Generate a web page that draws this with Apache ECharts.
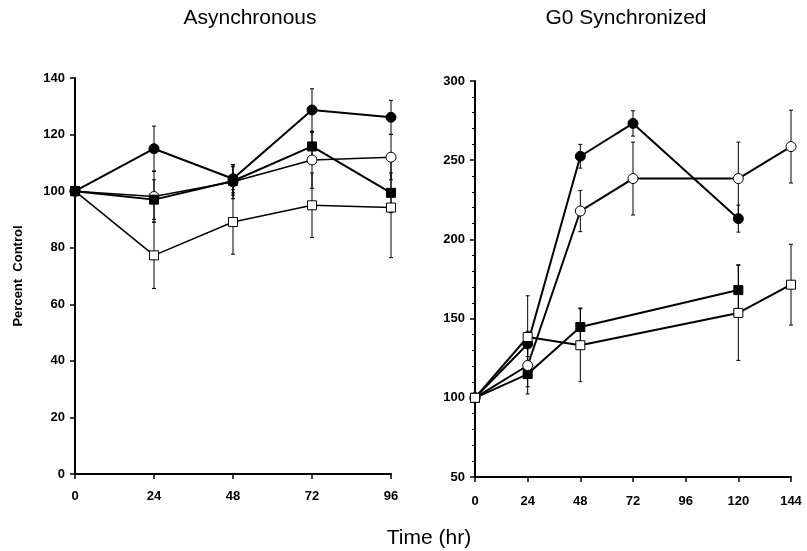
<!DOCTYPE html>
<html>
<head>
<meta charset="utf-8">
<script src="https://cdn.jsdelivr.net/npm/echarts@6/dist/echarts.min.js"></script>
<style>
  html, body { margin: 0; padding: 0; background: #fff; }
  #container { width: 807px; height: 551px; }
</style>
</head>
<body>
<div id="container"></div>
<script>
// Asynchronous panel
var asyncHours = [0, 24, 48, 72, 96];
var asyncFilledCircle = [100, 115, 104.4, 128.7, 126.1];
var asyncFilledCircleErr = [0, 8, 5, 7.5, 6];
var asyncOpenCircle = [100, 98.1, 103.3, 111, 112];
var asyncOpenCircleErr = [0, 9, 6, 10, 8];
var asyncFilledSquare = [100, 97, 103.6, 115.8, 99.4];
var asyncFilledSquareErr = [0, 7, 5, 5, 7];
var asyncOpenSquare = [100, 77.3, 89.1, 95, 94.2];
var asyncOpenSquareErr = [0, 11.7, 11.4, 11.4, 17.7];

// G0 synchronized panel
var syncFilledCircleHours = [0, 24, 48, 72, 120];
var syncFilledCircle = [100, 134, 252.5, 273.2, 213.1];
var syncFilledCircleErr = [0, 8, 7.5, 8, 8.5];
var syncOpenCircleHours = [0, 24, 48, 72, 120, 144];
var syncOpenCircle = [100, 120.4, 217.9, 238.4, 238.4, 258.6];
var syncOpenCircleErr = [0, 18, 13, 23, 23, 23];
var syncFilledSquareHours = [0, 24, 48, 120];
var syncFilledSquare = [100, 115, 144.7, 168];
var syncFilledSquareErr = [0, 8, 12, 16];
var syncOpenSquareHours = [0, 24, 48, 120, 144];
var syncOpenSquare = [100, 138.4, 133.2, 153.6, 171.4];
var syncOpenSquareErr = [0, 26, 23, 30, 25.5];

var FONT = 'Liberation Sans';

function pairs(xs, ys) {
    return xs.map(function (x, i) { return [x, ys[i]]; });
}

function triples(xs, ys, es) {
    return xs.map(function (x, i) { return [x, ys[i], es[i]]; });
}

function renderErrorBar(params, api) {
    var x = api.value(0), y = api.value(1), e = api.value(2);
    if (!e) {
        return null;
    }
    var top = api.coord([x, y + e]);
    var bot = api.coord([x, y - e]);
    var cap = 2;
    var style = { stroke: '#000', lineWidth: 1 };
    return {
        type: 'group',
        children: [
            { type: 'line', shape: { x1: top[0], y1: top[1], x2: bot[0], y2: bot[1] }, style: style },
            { type: 'line', shape: { x1: top[0] - cap, y1: top[1], x2: top[0] + cap, y2: top[1] }, style: style },
            { type: 'line', shape: { x1: bot[0] - cap, y1: bot[1], x2: bot[0] + cap, y2: bot[1] }, style: style }
        ]
    };
}

function lineSeries(gridIndex, data, symbol, filled, width) {
    return {
        type: 'line',
        xAxisIndex: gridIndex,
        yAxisIndex: gridIndex,
        data: data,
        symbol: symbol,
        symbolSize: symbol === 'circle' ? 10 : 9,
        showAllSymbol: true,
        lineStyle: { color: '#000', width: width },
        itemStyle: { color: filled ? '#000' : '#fff', borderColor: '#000', borderWidth: 1 },
        emphasis: { disabled: true },
        z: 3
    };
}

function errorSeries(gridIndex, data) {
    return {
        type: 'custom',
        xAxisIndex: gridIndex,
        yAxisIndex: gridIndex,
        data: data,
        renderItem: renderErrorBar,
        silent: true,
        z: 2
    };
}

function xAxis(gridIndex, max, margin) {
    return {
        type: 'value',
        gridIndex: gridIndex,
        min: 0,
        max: max,
        interval: 24,
        axisLine: { lineStyle: { color: '#000', width: 2 } },
        axisTick: { length: 5, lineStyle: { color: '#000', width: 1.5 } },
        axisLabel: { color: '#000', fontFamily: FONT, fontWeight: 'bold', fontSize: 13, margin: margin },
        splitLine: { show: false }
    };
}

function yAxis(gridIndex, min, max, interval, minor) {
    return {
        type: 'value',
        gridIndex: gridIndex,
        min: min,
        max: max,
        interval: interval,
        axisLine: { show: true, lineStyle: { color: '#000', width: 2 } },
        axisTick: { length: 5, inside: false, lineStyle: { color: '#000', width: 1.5 } },
        minorTick: { show: minor, splitNumber: 5, length: 3, lineStyle: { color: '#000', width: 1 } },
        axisLabel: { color: '#000', fontFamily: FONT, fontWeight: 'bold', fontSize: 13, margin: 10 },
        splitLine: { show: false }
    };
}

var myChart = echarts.init(document.getElementById('container'));

var leftY = yAxis(0, 0, 140, 20, false);
leftY.name = 'Percent  Control';
leftY.nameLocation = 'middle';
leftY.nameGap = 50;
leftY.nameTextStyle = { color: '#000', fontFamily: FONT, fontWeight: 'bold', fontSize: 13 };

var titleStyle = { fontFamily: FONT, fontWeight: 'normal', fontSize: 21, color: '#000' };

myChart.setOption({
    animation: false,
    backgroundColor: '#fff',
    title: [
        { text: 'Asynchronous', left: 245, top: 3, textAlign: 'center', textStyle: titleStyle },
        { text: 'G0 Synchronized', left: 621, top: 3, textAlign: 'center', textStyle: titleStyle },
        { text: 'Time (hr)', left: 424, top: 523, textAlign: 'center', textStyle: titleStyle }
    ],
    grid: [
        { left: 75, right: 416, top: 78, bottom: 77 },
        { left: 475, right: 16, top: 81, bottom: 74 }
    ],
    xAxis: [xAxis(0, 96, 16), xAxis(1, 144, 18)],
    yAxis: [leftY, yAxis(1, 50, 300, 50, true)],
    series: [
        errorSeries(0, triples(asyncHours, asyncFilledCircle, asyncFilledCircleErr)),
        errorSeries(0, triples(asyncHours, asyncOpenCircle, asyncOpenCircleErr)),
        errorSeries(0, triples(asyncHours, asyncFilledSquare, asyncFilledSquareErr)),
        errorSeries(0, triples(asyncHours, asyncOpenSquare, asyncOpenSquareErr)),
        lineSeries(0, pairs(asyncHours, asyncOpenSquare), 'rect', false, 1.5),
        lineSeries(0, pairs(asyncHours, asyncOpenCircle), 'circle', false, 1.5),
        lineSeries(0, pairs(asyncHours, asyncFilledSquare), 'rect', true, 2),
        lineSeries(0, pairs(asyncHours, asyncFilledCircle), 'circle', true, 2),

        errorSeries(1, triples(syncFilledCircleHours, syncFilledCircle, syncFilledCircleErr)),
        errorSeries(1, triples(syncOpenCircleHours, syncOpenCircle, syncOpenCircleErr)),
        errorSeries(1, triples(syncFilledSquareHours, syncFilledSquare, syncFilledSquareErr)),
        errorSeries(1, triples(syncOpenSquareHours, syncOpenSquare, syncOpenSquareErr)),
        lineSeries(1, pairs(syncFilledCircleHours, syncFilledCircle), 'circle', true, 2),
        lineSeries(1, pairs(syncFilledSquareHours, syncFilledSquare), 'rect', true, 2),
        lineSeries(1, pairs(syncOpenCircleHours, syncOpenCircle), 'circle', false, 2),
        lineSeries(1, pairs(syncOpenSquareHours, syncOpenSquare), 'rect', false, 2)
    ]
});
</script>
</body>
</html>
